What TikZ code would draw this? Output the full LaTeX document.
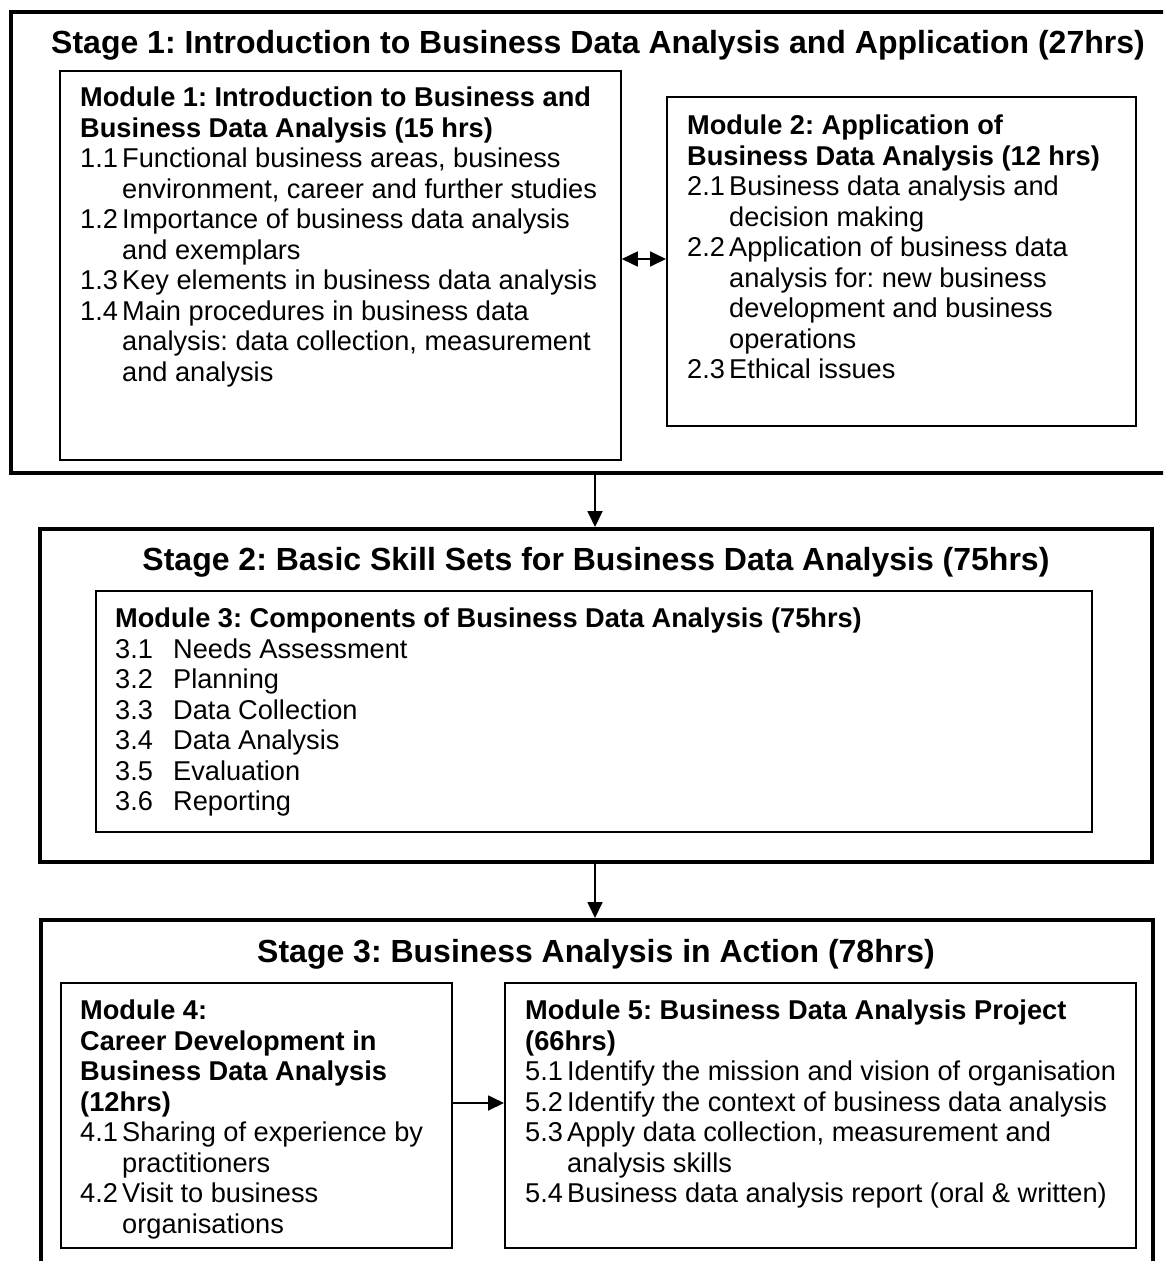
\documentclass[tikz,border=0pt]{standalone}
\usepackage{fontspec}
\setmainfont{Liberation Sans}
\usetikzlibrary{arrows.meta}
\frenchspacing
\newcommand\bodyfnt{\fontsize{27.2}{30.5}\selectfont}
\newcommand\titlefnt{\fontsize{32}{36}\selectfont\bfseries}
\newcommand\hd[1]{\multicolumn{2}{@{}l@{}}{\bfseries #1}}
\tikzset{
  stagebox/.style={draw, line width=4pt, inner sep=0pt, anchor=north west},
  modbox/.style={draw, line width=1.8pt, inner sep=0pt, anchor=north west},
  txt/.style={anchor=north west, inner sep=0pt, font=\bodyfnt},
  ttl/.style={anchor=center, inner sep=0pt, font=\titlefnt},
  conn/.style={line width=1.8pt, -{Triangle[length=16pt,width=15pt]}},
  dconn/.style={line width=1.8pt, {Triangle[length=16pt,width=15pt]}-{Triangle[length=16pt,width=15pt]}},
}
\begin{document}
\begin{tikzpicture}[x=1pt,y=-1pt]
\useasboundingbox (0,0) rectangle (1163,1261);
\clip (0,0) rectangle (1163,1261);
% stage boxes
\node[stagebox, minimum width=1180pt, minimum height=461pt] (s1) at (9,10) {};
\node[stagebox, minimum width=1112pt, minimum height=333pt] (s2) at (38,527) {};
\node[stagebox, minimum width=1112pt, minimum height=370pt] (s3) at (39,918) {};
% module boxes
\node[modbox, minimum width=561pt, minimum height=389pt] (m1) at (59,70) {};
\node[modbox, minimum width=469pt, minimum height=329pt] (m2) at (666,96) {};
\node[modbox, minimum width=996pt, minimum height=241pt] (m3) at (95,590) {};
\node[modbox, minimum width=391pt, minimum height=265pt] (m4) at (60,982) {};
\node[modbox, minimum width=631pt, minimum height=265pt] (m5) at (504,982) {};
% titles
\node[ttl] (t1) at (598,45) {Stage 1: Introduction to Business Data Analysis and Application (27hrs)};
\node[ttl] (t2) at (596,562) {Stage 2: Basic Skill Sets for Business Data Analysis (75hrs)};
\node[ttl] (t3) at (596,954) {Stage 3: Business Analysis in Action (78hrs)};
% module texts
\node[txt] (x1) at (80,85) {\begin{tabular}{@{}p{42pt}@{}l@{}}
\hd{Module 1: Introduction to Business and}\\
\hd{Business Data Analysis (15 hrs)}\\
1.1 & Functional business areas, business\\
 & environment, career and further studies\\
1.2 & Importance of business data analysis\\
 & and exemplars\\
1.3 & Key elements in business data analysis\\
1.4 & Main procedures in business data\\
 & analysis: data collection, measurement\\
 & and analysis
\end{tabular}};
\node[txt] (x2) at (687,113) {\begin{tabular}{@{}p{42pt}@{}l@{}}
\hd{Module 2: Application of}\\
\hd{Business Data Analysis (12 hrs)}\\
2.1 & Business data analysis and\\
 & decision making\\
2.2 & Application of business data\\
 & analysis for: new business\\
 & development and business\\
 & operations\\
2.3 & Ethical issues
\end{tabular}};
\node[txt] (x3) at (115,606) {\begin{tabular}{@{}p{58pt}@{}l@{}}
\hd{Module 3: Components of Business Data Analysis (75hrs)}\\
3.1 & Needs Assessment\\
3.2 & Planning\\
3.3 & Data Collection\\
3.4 & Data Analysis\\
3.5 & Evaluation\\
3.6 & Reporting
\end{tabular}};
\node[txt] (x4) at (80,998) {\begin{tabular}{@{}p{42pt}@{}l@{}}
\hd{Module 4:}\\
\hd{Career Development in}\\
\hd{Business Data Analysis}\\
\hd{(12hrs)}\\
4.1 & Sharing of experience by\\
 & practitioners\\
4.2 & Visit to business\\
 & organisations
\end{tabular}};
\node[txt] (x5) at (525,998) {\begin{tabular}{@{}p{42pt}@{}l@{}}
\hd{Module 5: Business Data Analysis Project}\\
\hd{(66hrs)}\\
5.1 & Identify the mission and vision of organisation\\
5.2 & Identify the context of business data analysis\\
5.3 & Apply data collection, measurement and\\
 & analysis skills\\
5.4 & Business data analysis report (oral \& written)
\end{tabular}};
% connectors
\coordinate (ay) at (0,259);
\coordinate (ax) at (595,0);
\coordinate (by) at (0,1103);
\draw[dconn] (m1.east |- ay) -- (m2.west |- ay);
\draw[conn] (s1.south -| ax) -- (s2.north -| ax);
\draw[conn] (s2.south -| ax) -- (s3.north -| ax);
\draw[conn] (m4.east |- by) -- (m5.west |- by);
\end{tikzpicture}
\end{document}
